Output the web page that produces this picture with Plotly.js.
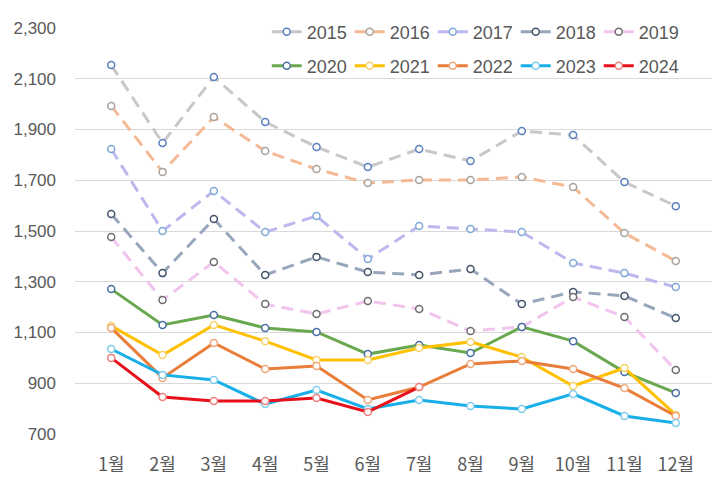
<!DOCTYPE html>
<html>
<head>
<meta charset="utf-8">
<script src="https://cdn.plot.ly/plotly-3.0.1.min.js"></script>
<style>html,body{margin:0;padding:0;background:#fff;}#chart{width:720px;height:484px;}</style>
</head>
<body>
<div id="chart"></div>
<script>
const months = ["1월","2월","3월","4월","5월","6월","7월","8월","9월","10월","11월","12월"];
const yTickVals = [700, 900, 1100, 1300, 1500, 1700, 1900, 2100, 2300];
const yTickText = ["700","900","1,100","1,300","1,500","1,700","1,900","2,100","2,300"];

const y2015 = [2154, 1847, 2107, 1930, 1831, 1752, 1823, 1776, 1894, 1878, 1693, 1598];
const y2016 = [1993, 1733, 1949, 1815, 1744, 1689, 1701, 1701, 1713, 1673, 1492, 1382];
const y2017 = [1823, 1500, 1658, 1496, 1559, 1390, 1520, 1508, 1496, 1374, 1334, 1279];
const y2018 = [1567, 1334, 1547, 1327, 1398, 1338, 1327, 1350, 1212, 1260, 1244, 1157];
const y2019 = [1476, 1228, 1378, 1212, 1173, 1224, 1193, 1106, 1122, 1240, 1161, 952];
const y2020 = [1271, 1130, 1169, 1118, 1102, 1015, 1051, 1019, 1122, 1066, 944, 862];
const y2021 = [1126, 1011, 1130, 1066, 992, 992, 1039, 1063, 1003, 889, 960, 775];
const y2022 = [1118, 921, 1059, 956, 968, 834, 885, 976, 988, 956, 881, 771];
const y2023 = [1035, 933, 913, 818, 873, 799, 834, 810, 799, 858, 771, 743];
const y2024 = [1000, 846, 830, 830, 842, 787, 885, null, null, null, null, null];

const seriesNames = ["2015","2016","2017","2018","2019","2020","2021","2022","2023","2024"];
const seriesValues = [y2015,y2016,y2017,y2018,y2019,y2020,y2021,y2022,y2023,y2024];
const lineColors = ["#C8C8C8","#F4B995","#BDB8EE","#98A6BC","#F2C4EE","#6AA84F","#FFC000","#E97D3A","#18AEE8","#E8101A"];
const markerColors = ["#5B7FC0","#A8A39C","#7FA8D8","#44546A","#6E6E6E","#4A6FA5","#F5D36A","#EFA77A","#7FCDEB","#F08080"];
const dashes = ["12px,7px","12px,7px","12px,7px","12px,7px","12px,7px","solid","solid","solid","solid","solid"];

const traces = seriesNames.map((n, i) => ({
  type: "scatter",
  mode: "lines+markers",
  name: n,
  x: months,
  y: seriesValues[i],
  line: {color: lineColors[i], width: 3, dash: dashes[i]},
  marker: {symbol: "circle", size: 7, color: "#ffffff", line: {color: markerColors[i], width: 1.5}},
  legend: i < 5 ? "legend" : "legend2",
  connectgaps: false
}));

const legendCommon = {
  orientation: "h",
  xref: "paper", yref: "paper",
  xanchor: "left", yanchor: "middle",
  bgcolor: "rgba(0,0,0,0)",
  font: {family: "Liberation Sans, Arial, sans-serif", size: 18, color: "#595959"},
  entrywidth: 38,
  entrywidthmode: "pixels",
  itemclick: false
};

const layout = {
  width: 720, height: 484,
  margin: {l: 75, r: 8, t: 28, b: 50},
  paper_bgcolor: "#ffffff",
  plot_bgcolor: "#ffffff",
  showlegend: true,
  legend: Object.assign({}, legendCommon, {x: 0.301, y: 0.990}),
  legend2: Object.assign({}, legendCommon, {x: 0.301, y: 0.906}),
  xaxis: {
    type: "category",
    showgrid: false,
    showline: false,
    zeroline: false,
    ticks: "",
    ticklabelstandoff: 18,
    tickfont: {family: "Noto Sans CJK KR, sans-serif", size: 18, color: "#595959"}
  },
  yaxis: {
    range: [700, 2300],
    tickvals: yTickVals,
    ticktext: yTickText,
    showgrid: true,
    gridcolor: "#D9D9D9",
    gridwidth: 1,
    zeroline: false,
    showline: false,
    ticks: "",
    ticklabelstandoff: 18,
    tickfont: {family: "Liberation Sans, Arial, sans-serif", size: 17, color: "#595959"}
  }
};

Plotly.newPlot("chart", traces, layout, {displayModeBar: false, staticPlot: true});
</script>
</body>
</html>
